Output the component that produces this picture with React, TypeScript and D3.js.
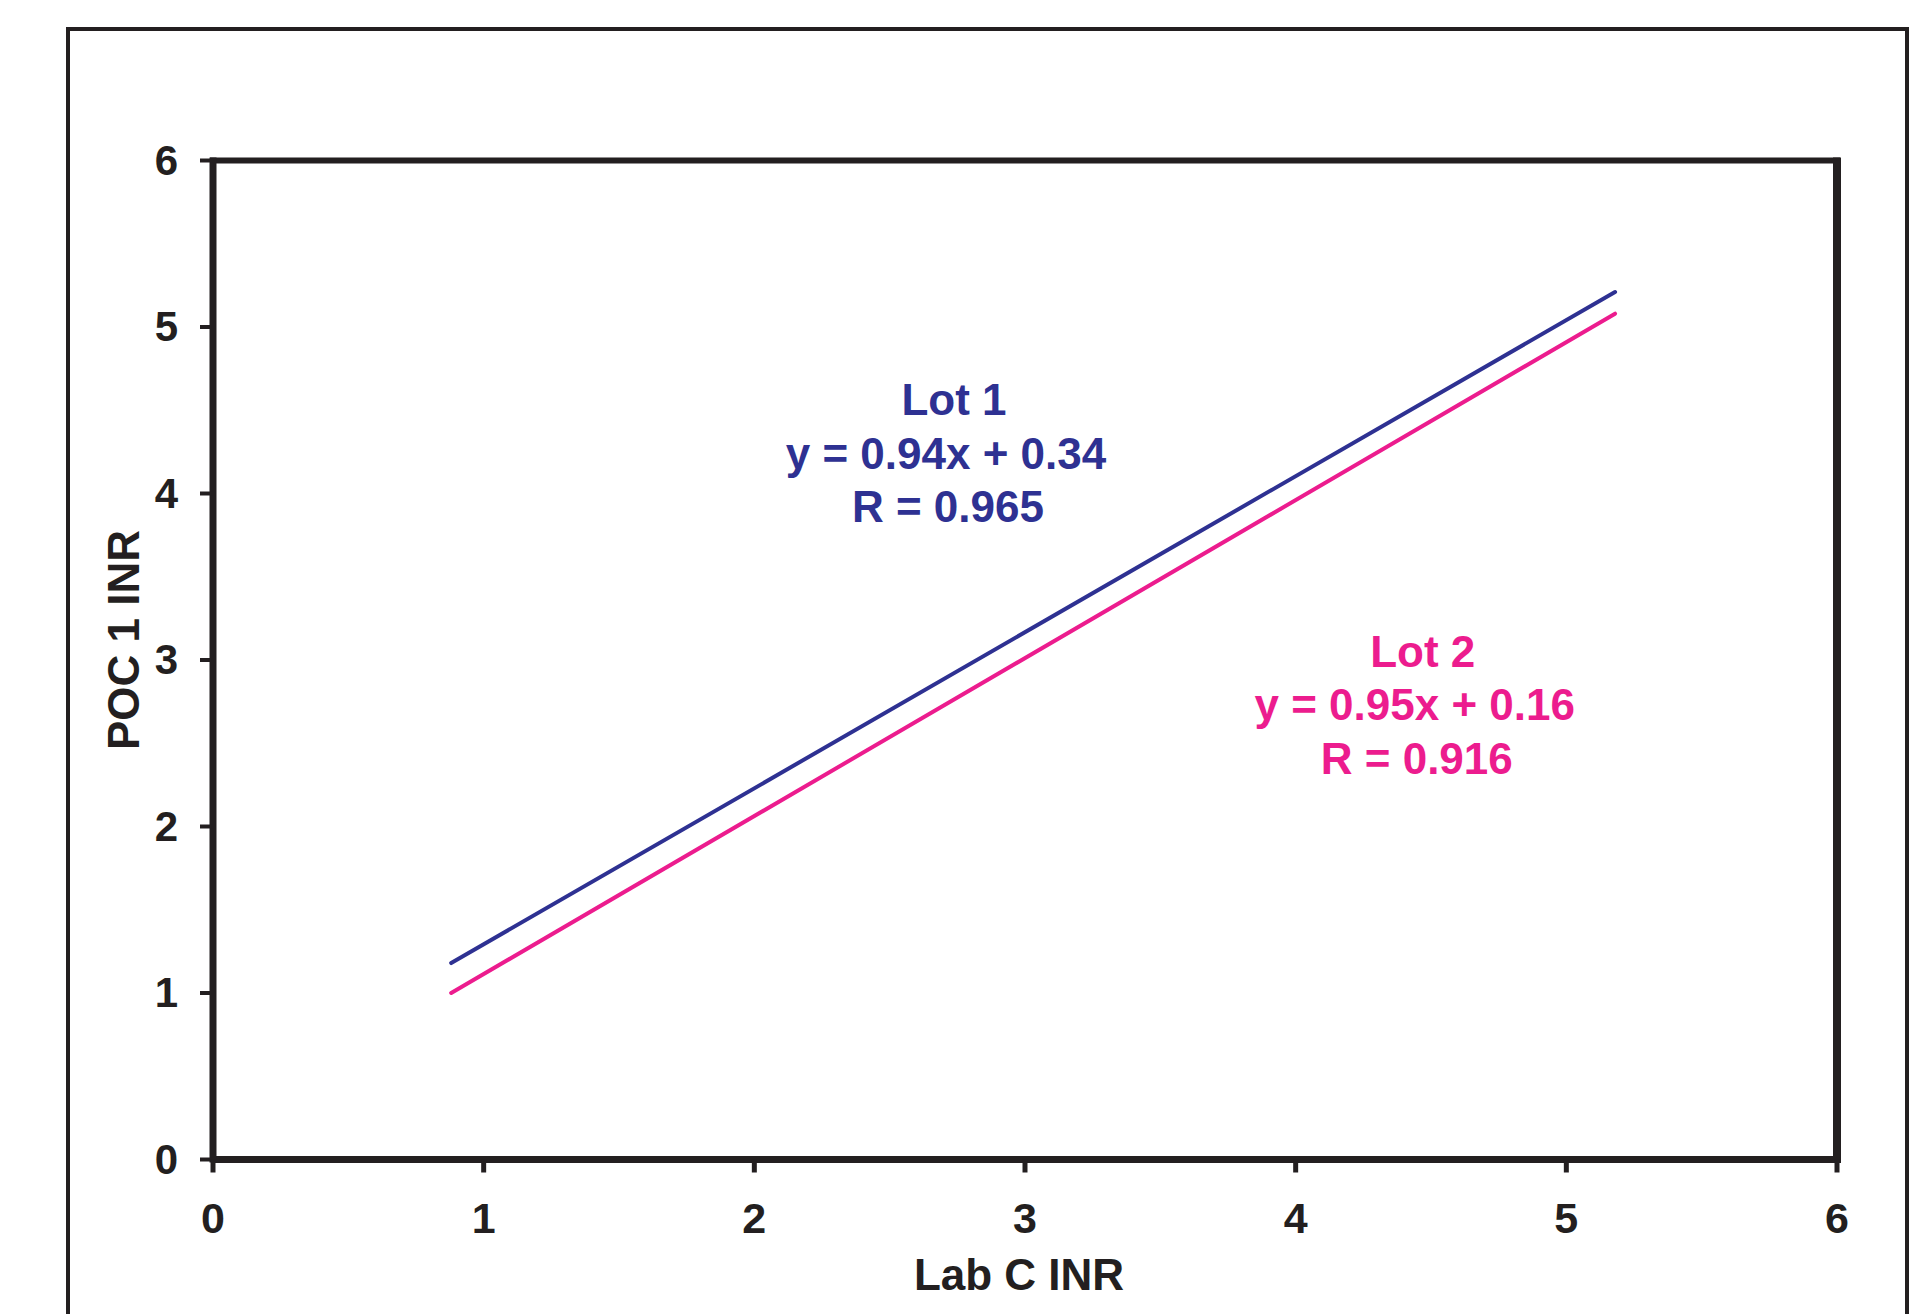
import React, { useEffect, useRef } from "react";
import * as d3 from "d3";

// regression lines, values
const lotNames = ["Lot 1", "Lot 2"];
const lotEquations = ["y = 0.94x + 0.34", "y = 0.95x + 0.16"];
const lotR = ["R = 0.965", "R = 0.916"];
const lotColors = ["#2E3192", "#EC1C8E"];
const lotStart = [
  [0.88, 1.18],
  [0.88, 1.0],
];
const lotEnd = [
  [5.18, 5.21],
  [5.18, 5.08],
];

const xTicks = [0, 1, 2, 3, 4, 5, 6];
const yTicks = [0, 1, 2, 3, 4, 5, 6];
const xTitle = "Lab C INR";
const yTitle = "POC 1 INR";

// where the label blocks sit (data units, centre x / first baseline y)
const labelAnchors = [
  [2.708, 4.47],
  [4.44, 2.96],
];

const FONT = "'Liberation Sans', Arial, Helvetica, sans-serif";

const App = () => {
  const svgRef = useRef<SVGSVGElement>(null);

  useEffect(() => {
    document.body.style.margin = "0";
    document.body.style.overflow = "hidden";

    const width = 1932;
    const height = 1314;
    const svg = d3.select(svgRef.current);
    svg.selectAll("*").remove();
    svg.attr("width", width).attr("height", height);

    svg.append("rect").attr("width", width).attr("height", height).attr("fill", "#fff");

    // outer frame (bottom is cut off in the original)
    svg
      .append("rect")
      .attr("x", 68)
      .attr("y", 29)
      .attr("width", 1839)
      .attr("height", 1400)
      .attr("fill", "none")
      .attr("stroke", "#231F20")
      .attr("stroke-width", 4);

    const x = d3.scaleLinear().domain([0, 6]).range([213, 1837]);
    const y = d3.scaleLinear().domain([0, 6]).range([1159.5, 160.5]);

    const ink = "#231F20";

    // plot box
    const [x0, x1] = x.range();
    const [y0, y1] = y.range();
    svg.append("line").attr("x1", x0 - 3).attr("x2", x1 + 3).attr("y1", y1).attr("y2", y1)
      .attr("stroke", ink).attr("stroke-width", 6);
    svg.append("line").attr("x1", x1).attr("x2", x1).attr("y1", y1 - 3).attr("y2", y0 + 3)
      .attr("stroke", ink).attr("stroke-width", 8);
    svg.append("line").attr("x1", x0).attr("x2", x1 + 4).attr("y1", y0).attr("y2", y0)
      .attr("stroke", ink).attr("stroke-width", 7);
    svg.append("line").attr("x1", x0).attr("x2", x0).attr("y1", y1 - 3).attr("y2", y0 + 3)
      .attr("stroke", ink).attr("stroke-width", 7);

    // y ticks + labels
    const yg = svg.append("g");
    yg.selectAll("line")
      .data(yTicks)
      .join("line")
      .attr("x1", x0 - 13)
      .attr("x2", x0)
      .attr("y1", (d) => y(d))
      .attr("y2", (d) => y(d))
      .attr("stroke", ink)
      .attr("stroke-width", 4);
    yg.selectAll("text")
      .data(yTicks)
      .join("text")
      .attr("x", 178)
      .attr("y", (d) => y(d) + 14)
      .attr("text-anchor", "end")
      .attr("font-family", FONT)
      .attr("font-weight", "bold")
      .attr("font-size", 42)
      .attr("fill", ink)
      .text((d) => d);

    // x ticks + labels
    const xg = svg.append("g");
    xg.selectAll("line")
      .data(xTicks)
      .join("line")
      .attr("x1", (d) => x(d))
      .attr("x2", (d) => x(d))
      .attr("y1", y0)
      .attr("y2", y0 + 13)
      .attr("stroke", ink)
      .attr("stroke-width", 5);
    xg.selectAll("text")
      .data(xTicks)
      .join("text")
      .attr("x", (d) => x(d))
      .attr("y", 1233)
      .attr("text-anchor", "middle")
      .attr("font-family", FONT)
      .attr("font-weight", "bold")
      .attr("font-size", 43)
      .attr("fill", ink)
      .text((d) => d);

    // axis titles
    svg
      .append("text")
      .attr("x", (x0 + x1) / 2 - 6)
      .attr("y", 1290)
      .attr("text-anchor", "middle")
      .attr("font-family", FONT)
      .attr("font-weight", "bold")
      .attr("font-size", 44)
      .attr("fill", ink)
      .text(xTitle);
    svg
      .append("text")
      .attr("transform", "translate(139,640) rotate(-90)")
      .attr("text-anchor", "middle")
      .attr("font-family", FONT)
      .attr("font-weight", "bold")
      .attr("font-size", 44)
      .attr("fill", ink)
      .text(yTitle);

    // regression lines
    const line = d3
      .line<number[]>()
      .x((d) => x(d[0]))
      .y((d) => y(d[1]));

    lotNames.forEach((name, i) => {
      svg
        .append("path")
        .datum([lotStart[i], lotEnd[i]])
        .attr("d", line)
        .attr("fill", "none")
        .attr("stroke", lotColors[i])
        .attr("stroke-width", 4)
        .attr("stroke-linecap", "round");

      const [ax, ay] = labelAnchors[i];
      const t = svg
        .append("text")
        .attr("text-anchor", "middle")
        .attr("font-family", FONT)
        .attr("font-weight", "bold")
        .attr("font-size", 44)
        .attr("fill", lotColors[i]);
      [name, lotEquations[i], lotR[i]].forEach((s, k) => {
        t.append("tspan")
          .attr("x", x(ax) + (k === 0 ? 8 : k === 2 ? 2 : 0))
          .attr("y", y(ay) + k * 53.5)
          .text(s);
      });
    });
  }, []);

  return <svg ref={svgRef} style={{ display: "block" }} />;
};

export default App;
